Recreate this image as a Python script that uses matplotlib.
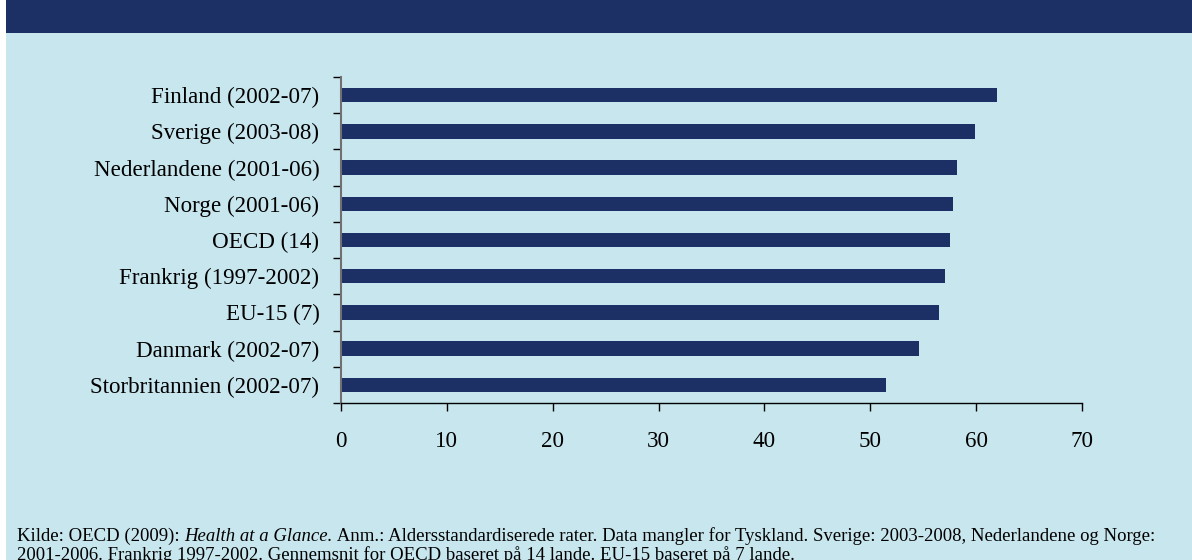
import matplotlib
matplotlib.use('Agg')
import matplotlib.pyplot as plt
import numpy as np

# data
countries = ['Finland (2002-07)', 'Sverige (2003-08)', 'Nederlandene (2001-06)',
             'Norge (2001-06)', 'OECD (14)', 'Frankrig (1997-2002)',
             'EU-15 (7)', 'Danmark (2002-07)', 'Storbritannien (2002-07)']
values = [62.0, 59.9, 58.2, 57.8, 57.5, 57.1, 56.5, 54.6, 51.5]
xticks = [0, 10, 20, 30, 40, 50, 60, 70]

noteLines = [
    ['Kilde: OECD (2009): ', 'Health at a Glance.',
     ' Anm.: Aldersstandardiserede rater. Data mangler for Tyskland. '
     'Sverige: 2003-2008, Nederlandene og Norge:'],
    ['2001-2006. Frankrig 1997-2002. Gennemsnit for OECD baseret på 14 lande. '
     'EU-15 baseret på 7 lande.'],
]

navy = '#1d3065'
paleBlue = '#c8e6ee'

plt.rcParams['font.family'] = ['Liberation Serif', 'DejaVu Serif']

W, H = 1192, 560
fig = plt.figure(figsize=(W/100, H/100), dpi=100)
fig.patch.set_facecolor('white')

# figure pixel coords (from top-left) to figure fraction
def px(x, y):
    return x/W, 1 - y/H

# background panel and header bar, kept behind the axes
fig.patches.append(plt.Rectangle((6/W, 0), 1 - 6/W, 1 - 33/H,
                                 transform=fig.transFigure,
                                 facecolor=paleBlue, edgecolor='none', zorder=-5))
fig.patches.append(plt.Rectangle((6/W, 1 - 33/H), 1 - 6/W, 33/H,
                                 transform=fig.transFigure,
                                 facecolor=navy, edgecolor='none', zorder=-5))

axLeft, axBottom = px(341, 403)
axRight, axTop = px(1082, 77)
ax = fig.add_axes((axLeft, axBottom, axRight - axLeft, axTop - axBottom))
ax.set_facecolor('none')

ypos = np.arange(len(countries))[::-1]
ax.barh(ypos, values, height=0.4, color=navy)

ax.set_xlim(0, 70)
ax.set_ylim(-0.5, len(countries) - 0.5)
ax.set_xticks(xticks)
ax.set_xticklabels([str(v) for v in xticks], fontsize=16.6)
ax.set_yticks(ypos)
ax.set_yticklabels(countries, fontsize=16.6)
ax.set_yticks(np.arange(-0.5, len(countries)), minor=True)
ax.tick_params(axis='y', which='major', length=0, pad=15.5)
ax.tick_params(axis='y', which='minor', length=5.5, width=1, color='black')
ax.tick_params(axis='x', which='major', length=6, width=1, pad=14)

for s in ['top', 'right']:
    ax.spines[s].set_visible(False)
ax.spines['left'].set_color('#707070')
ax.spines['left'].set_linewidth(1.5)
ax.spines['bottom'].set_color('black')
ax.spines['bottom'].set_linewidth(1)

# footnote with italic title piece
fig.canvas.draw()
renderer = fig.canvas.get_renderer()
lineY = [541, 560]
for line, yPix in zip(noteLines, lineY):
    xPix = 17
    for k, piece in enumerate(line):
        style = 'italic' if (len(line) > 1 and k == 1) else 'normal'
        t = fig.text(xPix/W, 1 - yPix/H, piece, fontsize=13.5, style=style,
                     va='baseline', ha='left', color='black')
        bb = t.get_window_extent(renderer=renderer)
        xPix += bb.width

fig.savefig('out.png', dpi=100, facecolor=fig.get_facecolor())
